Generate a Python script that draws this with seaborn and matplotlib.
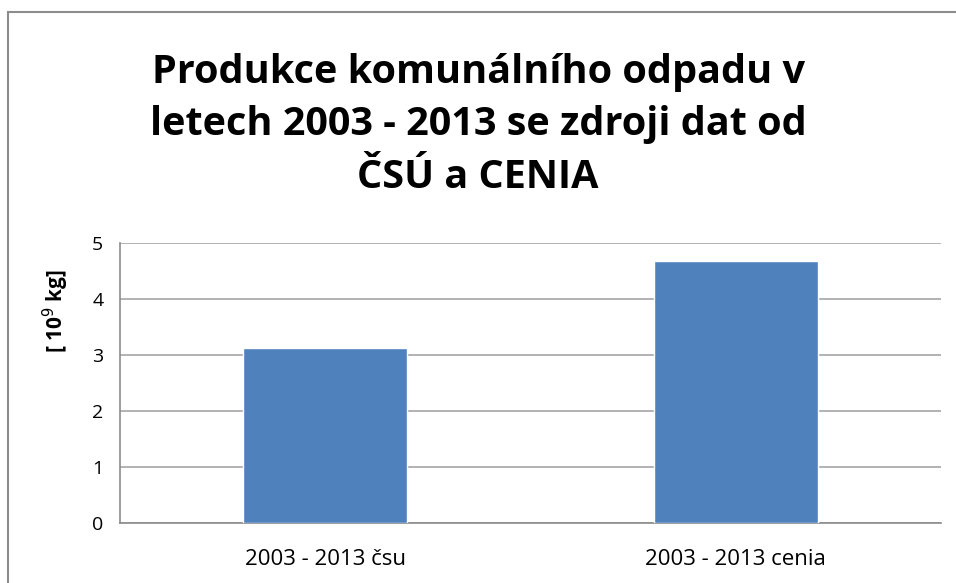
import matplotlib
matplotlib.use("Agg")
import matplotlib.pyplot as plt
import seaborn as sns
import pandas as pd
from matplotlib.patches import Rectangle

# data
kategorie = ["2003 - 2013 čsu", "2003 - 2013 cenia"]
hodnoty = [3.12, 4.68]

df = pd.DataFrame({"kategorie": kategorie, "hodnota": hodnoty})

sns.set_style("white")
plt.rcParams['font.family'] = ['Open Sans', 'DejaVu Sans']

fig = plt.figure(figsize=(9.56, 5.83), dpi=100)
ax = fig.add_axes([120/956, 1 - 523/583, (941-120)/956, (523-243)/583])

sns.barplot(data=df, x="kategorie", y="hodnota", color="#4f81bd", width=0.4,
            saturation=1, ax=ax, zorder=3)

ax.set_xlim(-0.5, 1.5)
ax.set_ylim(0, 5)
ax.set_yticks(range(0, 6))
ax.set_xticks([-0.5, 0.5, 1.5], minor=False)
ax.set_xticklabels([])
ax.set_xticks([0, 1], minor=True)
ax.set_xticklabels(kategorie, minor=True, fontsize=16)
ax.tick_params(axis='x', which='minor', length=0, pad=19, labelcolor='black')
ax.tick_params(axis='x', which='major', length=7, color='#8c8c8c', direction='out')
ax.tick_params(axis='y', length=7, color='#8c8c8c', direction='out', labelsize=14, pad=5,
               labelcolor='black')
ax.grid(axis='y', color='#a6a6a6', linewidth=1.2, zorder=0)
for s in ['top', 'right']:
    ax.spines[s].set_visible(False)
for s in ['left', 'bottom']:
    ax.spines[s].set_color('#8c8c8c')
    ax.spines[s].set_linewidth(1.2)

ax.set_xlabel("")
ax.set_ylabel("[ 10$^9$ kg]", fontsize=15, fontweight='bold', color='black')
ax.yaxis.set_label_coords(-0.06, 0.757)

fig.text(0.5, 1 - 125/583, "Produkce komunálního odpadu v\nletech 2003 - 2013 se zdroji dat od\nČSÚ a CENIA",
         fontsize=28.5, fontweight='bold', ha='center', va='center', linespacing=1.45,
         color='black')

# ramecek grafu
fig.patches.append(Rectangle((8/956, -0.1), 1.2, 1 - 12/583 + 0.1, transform=fig.transFigure,
                             fill=False, edgecolor='#8c8c8c', linewidth=1.5))

plt.savefig("out.png", dpi=100)
